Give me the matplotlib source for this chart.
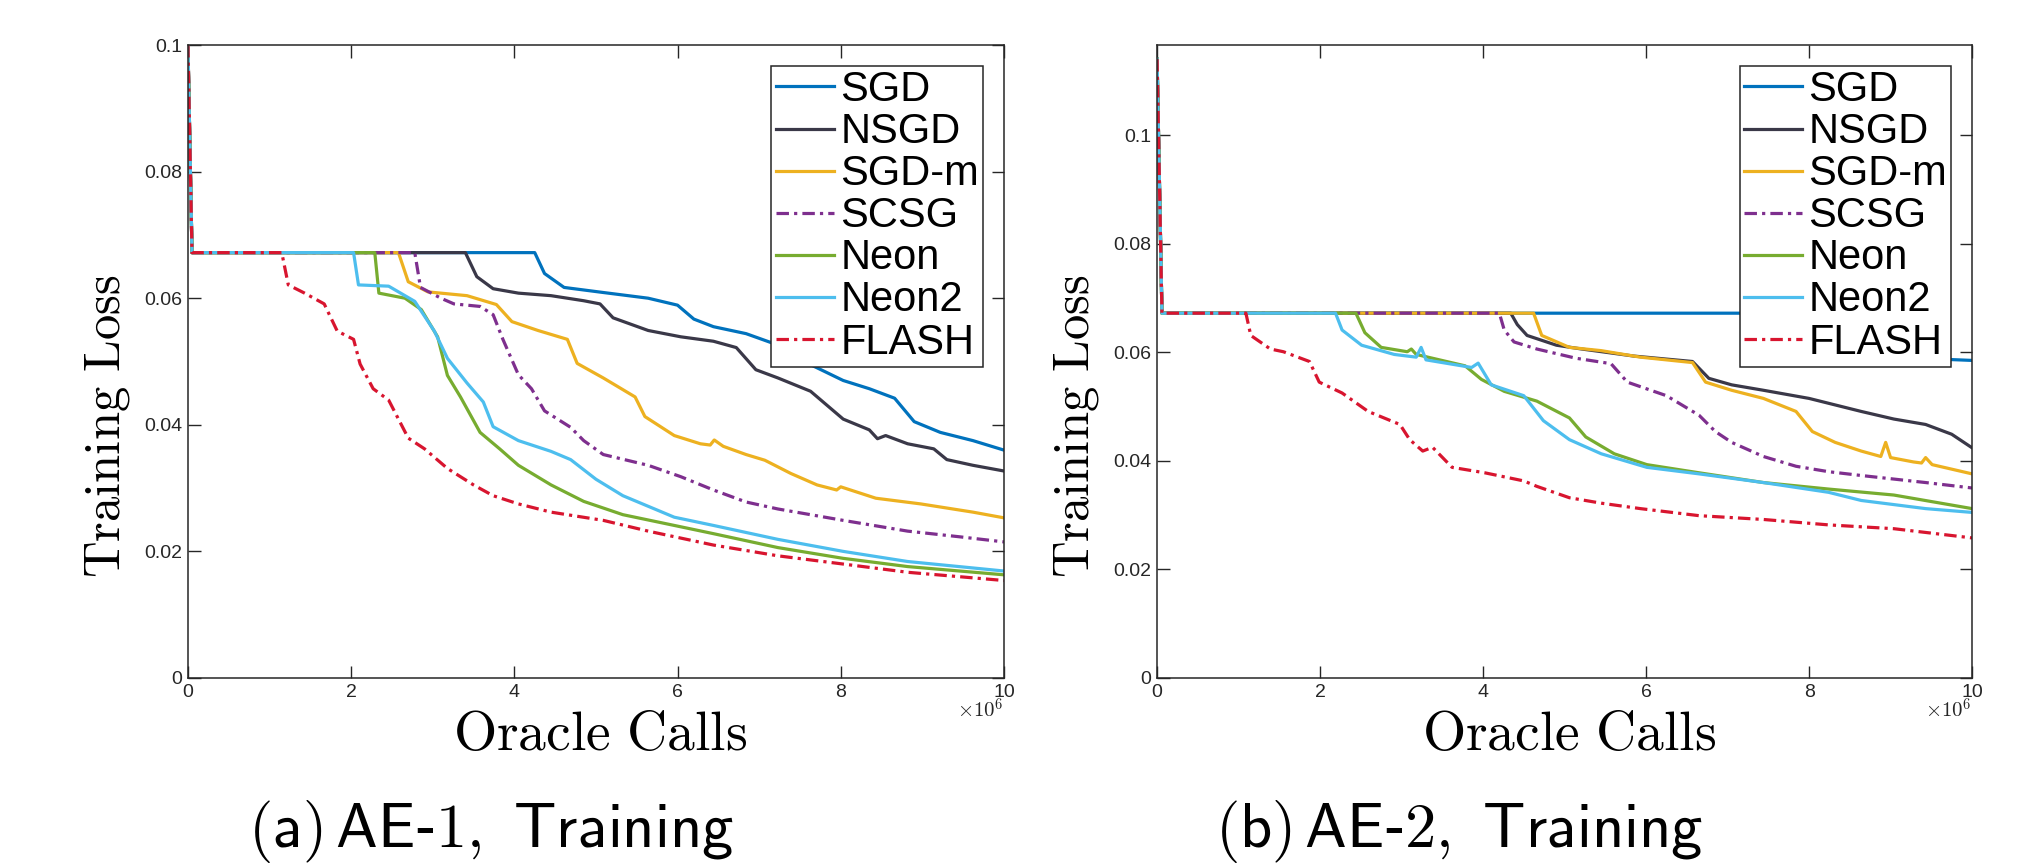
import matplotlib
matplotlib.use("Agg")
import matplotlib.pyplot as plt

plt.rcParams['mathtext.fontset'] = 'cm'
plt.rcParams['font.family'] = ['Liberation Sans', 'DejaVu Sans']

labels = ["SGD", "NSGD", "SGD-m", "SCSG", "Neon", "Neon2", "FLASH"]
colors = ["#0072BD", "#3A3848", "#EDB120", "#7E2F8E", "#77AC30", "#4DBEEE", "#D8152F"]
styles = ["-", "-", "-", "dashdot", "-", "-", "dashdot"]

x_ticks = [0, 2, 4, 6, 8, 10]
y_ticks = [0, 0.02, 0.04, 0.06, 0.08, 0.1]
y_ticklabels = ["0", "0.02", "0.04", "0.06", "0.08", "0.1"]

# ---------------- AE-1 (x in units of 1e6 oracle calls) ----------------
a_sgd_x = [0, 0.05, 4.25, 4.37, 4.61, 5.09, 5.64, 6.0, 6.2, 6.44, 6.84, 7.23, 7.63, 8.03, 8.35, 8.66, 8.9, 9.22, 9.62, 10]
a_sgd_y = [0.1, 0.0672, 0.0672, 0.0639, 0.0617, 0.0609, 0.0600, 0.0589, 0.0567, 0.0555, 0.0544, 0.0526, 0.0495, 0.0470, 0.0457, 0.0442, 0.0405, 0.0388, 0.0375, 0.0360]
a_nsgd_x = [0, 0.05, 3.40, 3.54, 3.74, 4.05, 4.45, 4.85, 5.05, 5.21, 5.64, 6.04, 6.44, 6.72, 6.96, 7.23, 7.63, 7.83, 8.03, 8.35, 8.45, 8.55, 8.82, 9.14, 9.30, 9.62, 10]
a_nsgd_y = [0.1, 0.0672, 0.0672, 0.0634, 0.0615, 0.0608, 0.0604, 0.0596, 0.0591, 0.0569, 0.0549, 0.0539, 0.0532, 0.0522, 0.0487, 0.0474, 0.0453, 0.0431, 0.0409, 0.0392, 0.0378, 0.0383, 0.0370, 0.0362, 0.0345, 0.0336, 0.0327]
a_sgdm_x = [0, 0.05, 2.58, 2.70, 2.94, 3.42, 3.78, 3.97, 4.29, 4.65, 4.77, 5.09, 5.48, 5.60, 5.96, 6.28, 6.40, 6.45, 6.56, 6.84, 7.07, 7.39, 7.71, 7.95, 8.0, 8.43, 8.98, 9.62, 10]
a_sgdm_y = [0.1, 0.0672, 0.0672, 0.0626, 0.0610, 0.0604, 0.0590, 0.0563, 0.0549, 0.0535, 0.0497, 0.0474, 0.0444, 0.0413, 0.0383, 0.0370, 0.0368, 0.0376, 0.0366, 0.0353, 0.0344, 0.0323, 0.0305, 0.0297, 0.0302, 0.0284, 0.0275, 0.0262, 0.0253]
a_scsg_x = [0, 0.05, 2.78, 2.85, 3.10, 3.26, 3.58, 3.74, 3.86, 4.05, 4.21, 4.37, 4.69, 4.85, 5.09, 5.64, 6.04, 6.44, 6.84, 7.23, 8.03, 8.82, 9.46, 10]
a_scsg_y = [0.1, 0.0672, 0.0672, 0.0617, 0.0600, 0.0591, 0.0587, 0.0574, 0.0535, 0.0479, 0.0457, 0.0422, 0.0396, 0.0375, 0.0353, 0.0336, 0.0318, 0.0297, 0.0278, 0.0267, 0.0249, 0.0232, 0.0223, 0.0215]
a_neon_x = [0, 0.05, 2.29, 2.34, 2.66, 2.86, 3.06, 3.18, 3.34, 3.58, 3.82, 4.05, 4.45, 4.85, 5.33, 5.96, 6.44, 7.23, 8.03, 8.82, 10]
a_neon_y = [0.1, 0.0672, 0.0672, 0.0608, 0.0600, 0.0582, 0.0539, 0.0478, 0.0444, 0.0388, 0.0362, 0.0336, 0.0305, 0.0279, 0.0258, 0.0241, 0.0228, 0.0206, 0.0189, 0.0176, 0.0163]
a_neon2_x = [0, 0.05, 2.03, 2.09, 2.46, 2.78, 3.02, 3.18, 3.42, 3.62, 3.74, 4.05, 4.45, 4.69, 5.0, 5.33, 5.96, 6.44, 7.23, 8.03, 8.82, 10]
a_neon2_y = [0.1, 0.0672, 0.0672, 0.0621, 0.0619, 0.0595, 0.0548, 0.0505, 0.0466, 0.0436, 0.0397, 0.0375, 0.0358, 0.0345, 0.0314, 0.0288, 0.0254, 0.0241, 0.0219, 0.0200, 0.0184, 0.0169]
a_flash_x = [0, 0.05, 1.15, 1.23, 1.43, 1.67, 1.83, 2.03, 2.11, 2.27, 2.46, 2.58, 2.70, 2.90, 3.18, 3.50, 3.74, 4.05, 4.45, 5.09, 5.64, 6.44, 7.23, 8.03, 8.82, 10]
a_flash_y = [0.1, 0.0672, 0.0672, 0.0621, 0.0608, 0.0591, 0.0548, 0.0535, 0.0496, 0.0457, 0.0439, 0.0409, 0.0379, 0.0362, 0.0331, 0.0305, 0.0288, 0.0275, 0.0262, 0.0249, 0.0232, 0.0210, 0.0193, 0.0180, 0.0167, 0.0154]

# ---------------- AE-2 ----------------
b_sgd_x = [0, 0.06, 7.6, 7.9, 8.3, 8.8, 9.5, 10]
b_sgd_y = [0.114, 0.0672, 0.0672, 0.0660, 0.0620, 0.0598, 0.0588, 0.0585]
b_nsgd_x = [0, 0.06, 4.34, 4.42, 4.54, 4.90, 5.21, 5.85, 6.57, 6.77, 7.05, 7.44, 8.0, 8.40, 8.64, 9.04, 9.43, 9.75, 10]
b_nsgd_y = [0.114, 0.0672, 0.0672, 0.0651, 0.0631, 0.0613, 0.0606, 0.0593, 0.0583, 0.0552, 0.0540, 0.0530, 0.0515, 0.0500, 0.0491, 0.0477, 0.0467, 0.0449, 0.0424]
b_sgdm_x = [0, 0.06, 4.62, 4.72, 5.06, 5.45, 5.93, 6.57, 6.73, 7.05, 7.44, 7.84, 8.04, 8.32, 8.64, 8.88, 8.94, 9.0, 9.28, 9.38, 9.43, 9.51, 10]
b_sgdm_y = [0.114, 0.0672, 0.0672, 0.0631, 0.0609, 0.0603, 0.0591, 0.0581, 0.0545, 0.0530, 0.0515, 0.0491, 0.0454, 0.0434, 0.0418, 0.0408, 0.0434, 0.0406, 0.0398, 0.0396, 0.0406, 0.0393, 0.0376]
b_scsg_x = [0, 0.06, 4.20, 4.26, 4.38, 4.66, 5.14, 5.57, 5.77, 6.25, 6.65, 6.85, 7.05, 7.44, 7.84, 8.24, 8.64, 9.43, 10]
b_scsg_y = [0.114, 0.0672, 0.0672, 0.0641, 0.0619, 0.0606, 0.0589, 0.0579, 0.0545, 0.0520, 0.0484, 0.0454, 0.0434, 0.0408, 0.0390, 0.0380, 0.0373, 0.0360, 0.0350]
b_neon_x = [0, 0.06, 2.44, 2.55, 2.75, 3.07, 3.12, 3.18, 3.38, 3.78, 3.98, 4.26, 4.66, 5.06, 5.26, 5.61, 6.01, 6.65, 7.44, 8.24, 9.04, 10]
b_neon_y = [0.114, 0.0672, 0.0672, 0.0636, 0.0609, 0.0601, 0.0606, 0.0596, 0.0589, 0.0575, 0.0550, 0.0528, 0.0510, 0.0479, 0.0444, 0.0413, 0.0393, 0.0378, 0.0360, 0.0348, 0.0337, 0.0312]
b_neon2_x = [0, 0.06, 2.19, 2.27, 2.51, 2.91, 3.18, 3.24, 3.30, 3.86, 3.94, 4.10, 4.50, 4.74, 5.06, 5.45, 6.01, 6.65, 7.44, 8.24, 8.64, 9.43, 10]
b_neon2_y = [0.114, 0.0672, 0.0672, 0.0641, 0.0613, 0.0596, 0.0591, 0.0609, 0.0586, 0.0572, 0.0580, 0.0540, 0.0520, 0.0474, 0.0439, 0.0413, 0.0388, 0.0376, 0.0360, 0.0342, 0.0327, 0.0312, 0.0305]
b_flash_x = [0, 0.06, 1.09, 1.15, 1.39, 1.55, 1.87, 1.99, 2.27, 2.59, 2.98, 3.10, 3.26, 3.38, 3.62, 4.02, 4.50, 4.66, 5.06, 5.45, 5.93, 6.65, 7.44, 8.24, 9.04, 10]
b_flash_y = [0.114, 0.0672, 0.0672, 0.0631, 0.0606, 0.0601, 0.0583, 0.0545, 0.0525, 0.0491, 0.0467, 0.0439, 0.0418, 0.0425, 0.0388, 0.0378, 0.0363, 0.0353, 0.0332, 0.0322, 0.0312, 0.0299, 0.0292, 0.0282, 0.0275, 0.0258]

panel_a = [(a_sgd_x, a_sgd_y), (a_nsgd_x, a_nsgd_y), (a_sgdm_x, a_sgdm_y), (a_scsg_x, a_scsg_y),
           (a_neon_x, a_neon_y), (a_neon2_x, a_neon2_y), (a_flash_x, a_flash_y)]
panel_b = [(b_sgd_x, b_sgd_y), (b_nsgd_x, b_nsgd_y), (b_sgdm_x, b_sgdm_y), (b_scsg_x, b_scsg_y),
           (b_neon_x, b_neon_y), (b_neon2_x, b_neon2_y), (b_flash_x, b_flash_y)]

fig = plt.figure(figsize=(20.36, 8.64), dpi=100)
ax1 = fig.add_axes([0.0923, 0.2153, 0.4008, 0.7326])
ax2 = fig.add_axes([0.5683, 0.2153, 0.4003, 0.7326])

dashdot = (0, (3.9, 1.6, 1.0, 1.6))

def draw(ax, series, ytop, caption):
    for (xs, ys), lab, col, st in zip(series, labels, colors, styles):
        ls = dashdot if st == "dashdot" else "-"
        ax.plot(xs, ys, color=col, lw=2.3, linestyle=ls, label=lab)
    ax.set_xlim(0, 10)
    ax.set_ylim(0, ytop)
    ax.set_xticks(x_ticks)
    ax.set_xticklabels([str(t) for t in x_ticks])
    ax.set_yticks(y_ticks)
    ax.set_yticklabels(y_ticklabels)
    ax.tick_params(direction='in', length=9, width=1.0, top=True, right=True,
                   labelsize=14, colors='#262626', pad=4)
    for sp in ax.spines.values():
        sp.set_color('#262626')
        sp.set_linewidth(1.1)
    ax.set_xlabel(r'$\mathrm{Oracle\ Calls}$', fontsize=40)
    ax.xaxis.label.set_va('center')
    ax.xaxis.set_label_coords(0.505, -0.092)
    ax.set_ylabel(r'$\mathrm{Training\ Loss}$', fontsize=36.5)
    ax.yaxis.label.set_va('center')
    ax.yaxis.set_label_coords(-0.099, 0.397)
    ax.text(1.0, -0.05, r'$\times10^{6}$', transform=ax.transAxes, ha='right', va='center',
            fontsize=15, color='#262626', family=['DejaVu Sans'])
    ax.text(0.371, -0.242, caption, transform=ax.transAxes, ha='center', va='center', fontsize=45)
    leg = ax.legend(loc='upper right', fontsize=30, frameon=True, fancybox=False,
                    borderpad=0.1, labelspacing=0.05, handlelength=1.4, handletextpad=0.15,
                    borderaxespad=0.5)
    leg.get_frame().set_edgecolor('#262626')
    leg.get_frame().set_linewidth(1.1)
    leg.get_frame().set_alpha(1)

draw(ax1, panel_a, 0.1, r'$\mathsf{(a)\,AE}$-$\mathsf{1,\ Training}$')
draw(ax2, panel_b, 0.1166, r'$\mathsf{(b)\,AE}$-$\mathsf{2,\ Training}$')

fig.savefig("out.png", dpi=100)
